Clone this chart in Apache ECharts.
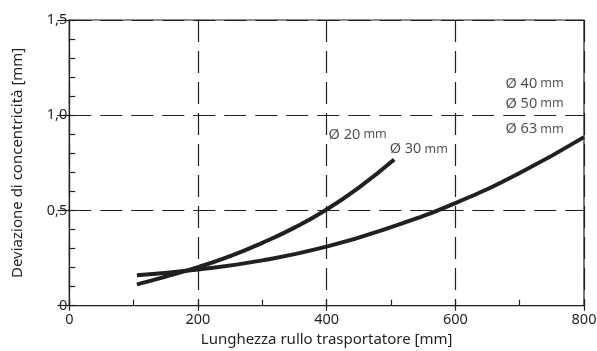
<!DOCTYPE html>
<html><head><meta charset="utf-8">
<script src="https://cdn.jsdelivr.net/npm/echarts@6/dist/echarts.min.js"></script>
<style>html,body{margin:0;padding:0;background:#fff}#c{width:597px;height:351px}</style>
</head><body><div id="c"></div>
<script>
// Data
var xTicks = [0, 200, 400, 600, 800];
var yTickLabels = {0: '0', 0.5: '0,5', 1: '1,0', 1.5: '1,5'};
var curveSmall = [[105,0.112],[150,0.1525],[200,0.2025],[250,0.26],[300,0.33],[350,0.41],[400,0.505],[450,0.62],[505,0.768]]; // Ø20 / Ø30
var curveLarge = [[105,0.16],[200,0.19],[300,0.238],[400,0.31],[500,0.412],[600,0.539],[700,0.697],[800,0.885]]; // Ø40 / Ø50 / Ø63
var labelNames = ['20','30','40','50','63'];
var labelAnchors = [[403,0.897],[498,0.823],[678,1.165],[678,1.06],[678,0.928]];

var FONT = 'Noto Sans';
var ink = '#231f20';
var chart = echarts.init(document.getElementById('c'), null, {renderer:'canvas'});
var annot = labelNames.map(function(n,i){ return {value: labelAnchors[i], name: n}; });
chart.setOption({
  animation:false,
  textStyle:{fontFamily:FONT},
  grid:{left:69.3, right:13, top:20, bottom:45.3, show:true, borderColor:ink, borderWidth:1.2, containLabel:false, outerBoundsMode:'none'},
  xAxis:[{
    type:'value', min:0, max:800, interval:200, position:'bottom',
    name:'Lunghezza rullo trasportatore [mm]', nameLocation:'middle', nameGap:26,
    nameTextStyle:{fontFamily:FONT, fontSize:15, color:ink},
    axisLine:{show:true, lineStyle:{color:ink, width:1.2}},
    axisTick:{show:true, inside:false, length:5, lineStyle:{color:ink, width:1.2}},
    axisLabel:{fontFamily:FONT, fontSize:14.5, color:ink, margin:7},
    splitLine:{show:true, lineStyle:{color:ink, width:1.2, type:[22,9]}}
  },{
    type:'value', min:0, max:800, interval:100, position:'bottom',
    axisLine:{show:false}, axisLabel:{show:false}, splitLine:{show:false},
    axisTick:{show:true, inside:true, length:6, lineStyle:{color:ink, width:1.2}}
  }],
  yAxis:[{
    type:'value', min:0, max:1.5, interval:0.5, position:'left',
    name:'Deviazione di concentricità [mm]', nameLocation:'middle', nameGap:44,
    nameTextStyle:{fontFamily:FONT, fontSize:15, color:ink},
    axisLine:{show:true, lineStyle:{color:ink, width:1.2}},
    axisTick:{show:true, inside:false, length:12, lineStyle:{color:ink, width:1.2}},
    axisLabel:{fontFamily:FONT, fontSize:14.5, color:ink, margin:2, formatter:function(v){return yTickLabels[v];}},
    splitLine:{show:true, lineStyle:{color:ink, width:1.2, type:[22,9]}}
  },{
    type:'value', min:0, max:1.5, interval:0.1, position:'left',
    axisLine:{show:false}, axisLabel:{show:false}, splitLine:{show:false},
    axisTick:{show:true, inside:true, length:6, lineStyle:{color:ink, width:1.2}}
  }],
  series:[
    {type:'line', data:curveSmall, smooth:0.5, showSymbol:false, lineStyle:{color:ink, width:4}, z:5},
    {type:'line', data:curveLarge, smooth:0.5, showSymbol:false, lineStyle:{color:ink, width:4}, z:5},
    {type:'scatter', data:annot, symbolSize:0, z:6,
     label:{show:true, position:'right', distance:0, color:ink,
       formatter:function(p){return '{a|Ø ' + p.name + '} {b|mm}';},
       rich:{a:{fontFamily:FONT, fontSize:14.5, color:ink}, b:{fontFamily:FONT, fontSize:12.5, color:ink}}}}
  ]
});
</script></body></html>
